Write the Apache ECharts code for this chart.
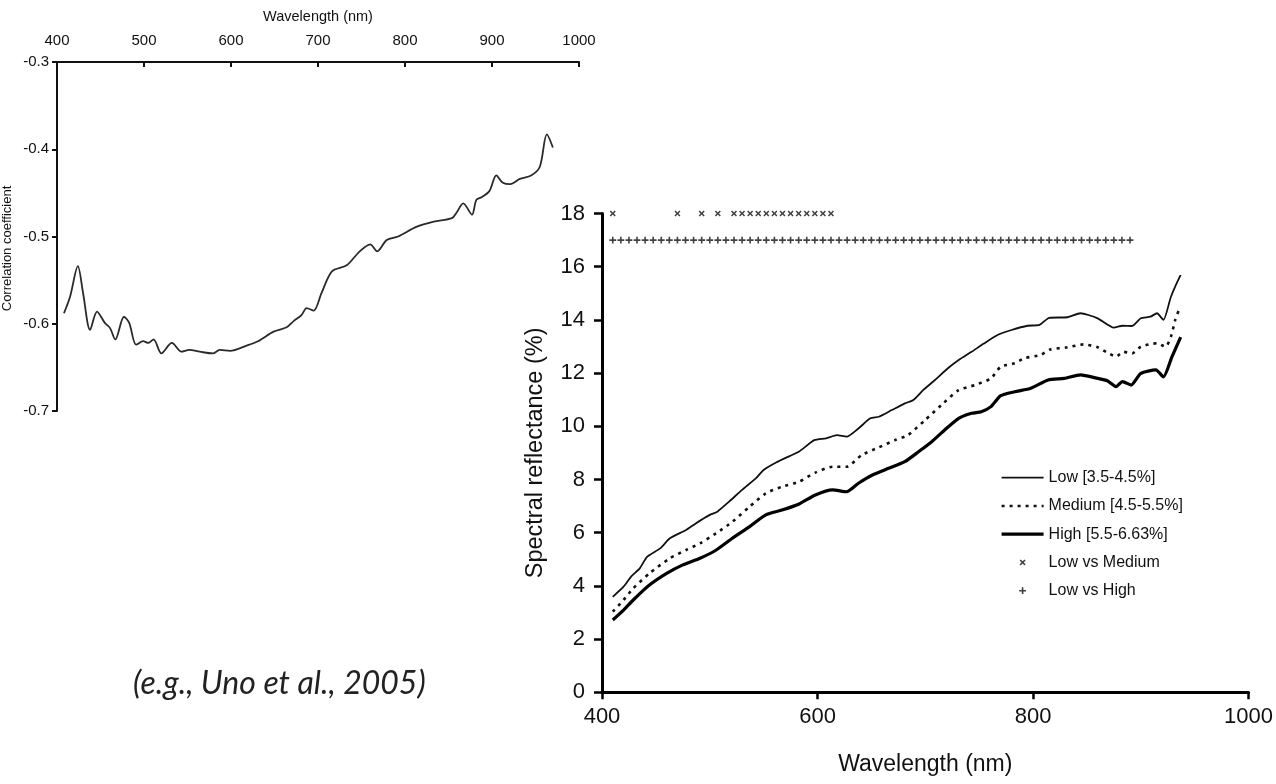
<!DOCTYPE html>
<html>
<head>
<meta charset="utf-8">
<script src="https://cdn.jsdelivr.net/npm/echarts@6/dist/echarts.min.js"></script>
<style>
html,body{margin:0;padding:0;background:#fff;}
#chart{width:1276px;height:784px;}
</style>
</head>
<body>
<div id="chart"></div>
<script>
// ---- Left panel: correlation coefficient vs wavelength ----
var corrWl = [408,415,424,430,438,446,455,461,467,477,483,491,499,505,511,520,532,543,552,564,579,587,599,618,631,649,664,672,681,687,695,704,716,733,748,760,768,779,792,813,833,854,859,867,877,882,888,897,905,912,921,932,945,955,963,970];
var corrVal = [-0.588,-0.569,-0.534,-0.565,-0.607,-0.586,-0.599,-0.605,-0.618,-0.592,-0.599,-0.624,-0.620,-0.622,-0.618,-0.634,-0.622,-0.632,-0.630,-0.632,-0.634,-0.630,-0.631,-0.625,-0.620,-0.609,-0.604,-0.597,-0.590,-0.582,-0.585,-0.565,-0.540,-0.533,-0.517,-0.509,-0.517,-0.504,-0.500,-0.489,-0.483,-0.479,-0.473,-0.462,-0.475,-0.458,-0.455,-0.448,-0.430,-0.438,-0.440,-0.434,-0.430,-0.420,-0.383,-0.398];

// ---- Right panel: spectral reflectance ----
var lowWl = [410,420,427,435,442,454,463,478,487,500,507,518,530,543,550,562,574,583,597,608,618,627,638,649,657,669,681,689,698,709,721,731,743,754,767,780,795,806,815,832,844,860,875,883,892,900,909,915,921,928,937];
var lowVal = [3.59,3.97,4.35,4.66,5.10,5.41,5.79,6.10,6.35,6.67,6.79,7.17,7.61,8.05,8.36,8.65,8.88,9.05,9.48,9.55,9.67,9.61,9.92,10.30,10.36,10.61,10.86,10.99,11.36,11.74,12.18,12.49,12.80,13.10,13.43,13.62,13.78,13.81,14.08,14.10,14.25,14.06,13.71,13.78,13.77,14.06,14.12,14.25,14.00,14.87,15.69];
var medWl = [410,420,429,444,463,478,491,506,521,537,552,567,583,598,614,627,641,657,672,684,700,715,731,746,761,770,783,792,807,816,832,847,860,869,877,884,892,900,909,915,923,928,932,936];
var medVal = [3.03,3.47,3.91,4.47,5.04,5.35,5.60,5.98,6.41,6.98,7.48,7.73,7.92,8.26,8.48,8.48,8.92,9.21,9.48,9.67,10.24,10.80,11.36,11.55,11.80,12.24,12.37,12.56,12.68,12.89,12.97,13.08,12.97,12.77,12.62,12.80,12.74,12.99,13.09,13.12,12.99,13.37,14.00,14.44];
var highWl = [410,420,429,444,460,475,491,506,521,537,552,567,583,598,614,627,638,651,666,681,694,706,718,731,743,752,761,770,783,798,814,829,844,860,869,877,883,891,900,914,921,929,937];
var highVal = [2.72,3.09,3.47,4.03,4.47,4.79,5.04,5.35,5.79,6.23,6.67,6.85,7.08,7.42,7.61,7.54,7.86,8.17,8.42,8.67,9.05,9.42,9.86,10.30,10.49,10.55,10.74,11.15,11.30,11.43,11.74,11.80,11.93,11.80,11.71,11.49,11.68,11.55,11.99,12.12,11.86,12.62,13.35];

// Significance markers
var lvmWl = [410,470,492.5,507.5,522.5,530,537.5,545,552.5,560,567.5,575,582.5,590,597.5,605,612.5];
var lvmLevel = 18;
var lvhWl = [410,417.5,425,432.5,440,447.5,455,462.5,470,477.5,485,492.5,500,507.5,515,522.5,530,537.5,545,552.5,560,567.5,575,582.5,590,597.5,605,612.5,620,627.5,635,642.5,650,657.5,665,672.5,680,687.5,695,702.5,710,717.5,725,732.5,740,747.5,755,762.5,770,777.5,785,792.5,800,807.5,815,822.5,830,837.5,845,852.5,860,867.5,875,882.5,890];
var lvhLevel = 17;

var seriesNames = ['Low [3.5-4.5%]','Medium [4.5-5.5%]','High [5.5-6.63%]','Low vs Medium','Low vs High'];
var annotation = '(e.g., Uno et al., 2005)';

function pairs(xs, ys){ return xs.map(function(x,i){ return [x, ys[i]]; }); }
function level(xs, v){ return xs.map(function(x){ return [x, v]; }); }

// glyphs drawn inside a 14x14 box so that legend icons keep the small marker size
var plusPath = 'path://M0,0 M14,14 M6.2,3.6 L7.8,3.6 L7.8,6.2 L10.4,6.2 L10.4,7.8 L7.8,7.8 L7.8,10.4 L6.2,10.4 L6.2,7.8 L3.6,7.8 L3.6,6.2 L6.2,6.2 Z';
var crossPath = 'path://M0,0 M14,14 M4,5.1 L5.1,4 L7,5.9 L8.9,4 L10,5.1 L8.1,7 L10,8.9 L8.9,10 L7,8.1 L5.1,10 L4,8.9 L5.9,7 Z';
var blankPath = 'path://M0,0 M1,1';

var FONT = 'Liberation Sans, Arial, sans-serif';
var noComma = function(v){ return String(v); };
var chart = echarts.init(document.getElementById('chart'));
chart.setOption({
  animation: false,
  backgroundColor: '#ffffff',
  textStyle: { fontFamily: FONT, color: '#111' },
  graphic: [{
    type: 'text', left: 133, top: 668,
    style: { text: annotation, font: 'italic 32px Lato, "Open Sans", sans-serif', fill: '#222' }
  }],
  grid: [
    { left: 57, top: 62, width: 522, height: 349 },
    { left: 602, top: 213.5, width: 650, height: 478.8 }
  ],
  xAxis: [
    { gridIndex: 0, type: 'value', position: 'top', min: 400, max: 1000, interval: 100,
      name: 'Wavelength (nm)', nameLocation: 'middle', nameGap: 38,
      nameTextStyle: { fontSize: 14.5, color: '#111', fontFamily: FONT },
      axisLine: { lineStyle: { color: '#111', width: 2 } },
      axisTick: { inside: true, length: 5, lineStyle: { color: '#111', width: 2 } },
      axisLabel: { fontSize: 15, color: '#111', margin: 14, formatter: noComma },
      splitLine: { show: false } },
    { gridIndex: 1, type: 'value', position: 'bottom', min: 400, max: 1000, interval: 200,
      name: 'Wavelength (nm)', nameLocation: 'middle', nameGap: 61,
      nameTextStyle: { fontSize: 23, color: '#111', fontFamily: FONT },
      axisLine: { lineStyle: { color: '#000', width: 3 } },
      axisTick: { length: 7, lineStyle: { color: '#000', width: 2.5 } },
      axisLabel: { fontSize: 22, color: '#111', margin: 14, formatter: noComma },
      splitLine: { show: false } }
  ],
  yAxis: [
    { gridIndex: 0, type: 'value', min: -0.7, max: -0.3, interval: 0.1,
      name: 'Correlation coefficient', nameLocation: 'middle', nameGap: 43,
      nameTextStyle: { fontSize: 13, color: '#111', fontFamily: FONT, padding: [0, 24, 0, 0] },
      axisLine: { show: true, lineStyle: { color: '#111', width: 2 } },
      axisTick: { show: true, length: 5, lineStyle: { color: '#111', width: 2 } },
      axisLabel: { fontSize: 15, color: '#111', margin: 8, formatter: function(v){ return v.toFixed(1); } },
      splitLine: { show: false } },
    { gridIndex: 1, type: 'value', min: 0, max: 18, interval: 2,
      name: 'Spectral reflectance (%)', nameLocation: 'middle', nameGap: 54,
      nameTextStyle: { fontSize: 23.5, color: '#111', fontFamily: FONT },
      axisLine: { show: true, lineStyle: { color: '#000', width: 3 } },
      axisTick: { show: true, length: 8, lineStyle: { color: '#000', width: 2.5 } },
      axisLabel: { fontSize: 22, color: '#111', margin: 17 },
      splitLine: { show: false } }
  ],
  legend: [
    { data: seriesNames,
      orient: 'vertical', left: 1000, top: 469.7, padding: 0,
      itemWidth: 42, itemHeight: 14, itemGap: 12.25,
      lineStyle: { width: 'inherit' },
      textStyle: { fontSize: 16, color: '#111', lineHeight: 14, fontFamily: FONT } }
  ],
  series: [
    { type: 'line', name: 'corr', xAxisIndex: 0, yAxisIndex: 0, data: pairs(corrWl, corrVal),
      symbol: 'none', smooth: 0.3, lineStyle: { color: '#2a2a2a', width: 1.8 } },
    { type: 'line', name: seriesNames[0], xAxisIndex: 1, yAxisIndex: 1, data: pairs(lowWl, lowVal),
      symbol: blankPath, showSymbol: false, smooth: 0.2, color: '#111', lineStyle: { color: '#111', width: 1.8 } },
    { type: 'line', name: seriesNames[1], xAxisIndex: 1, yAxisIndex: 1, data: pairs(medWl, medVal),
      symbol: blankPath, showSymbol: false, smooth: 0.2, color: '#111', lineStyle: { color: '#111', width: 2.6, type: [3, 5] } },
    { type: 'line', name: seriesNames[2], xAxisIndex: 1, yAxisIndex: 1, data: pairs(highWl, highVal),
      symbol: blankPath, showSymbol: false, smooth: 0.2, color: '#000', lineStyle: { color: '#000', width: 3.2 } },
    { type: 'scatter', name: seriesNames[3], xAxisIndex: 1, yAxisIndex: 1, data: level(lvmWl, lvmLevel),
      symbol: crossPath, symbolSize: 14, clip: false, itemStyle: { color: '#111' } },
    { type: 'scatter', name: seriesNames[4], xAxisIndex: 1, yAxisIndex: 1, data: level(lvhWl, lvhLevel),
      symbol: plusPath, symbolSize: 14, clip: false, itemStyle: { color: '#111' } }
  ]
});
</script>
</body>
</html>
